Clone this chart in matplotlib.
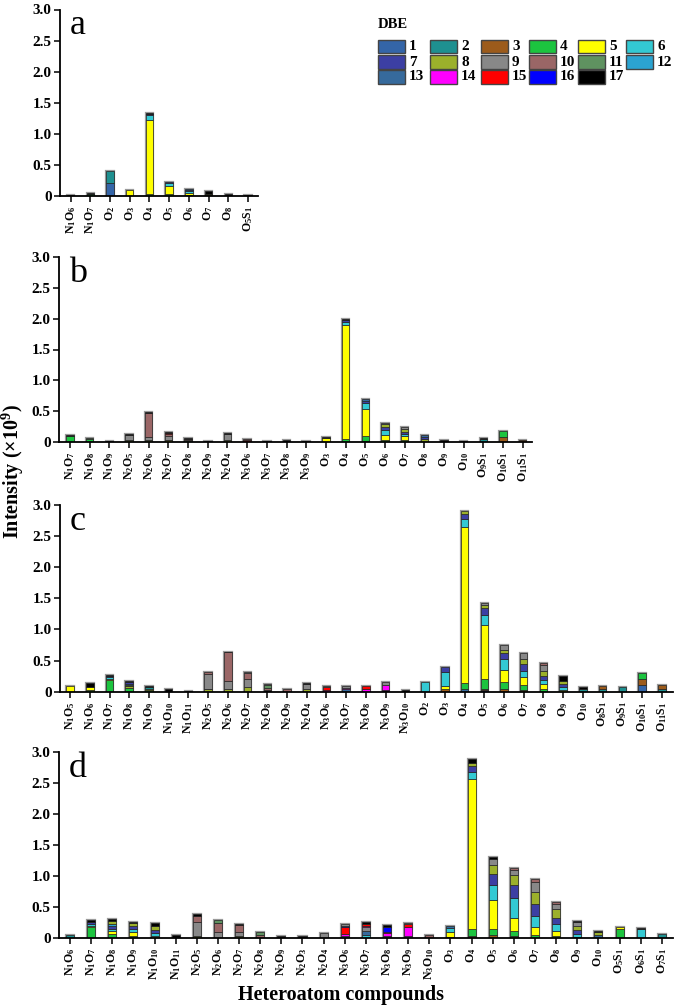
import re
import matplotlib
matplotlib.use("Agg")
import matplotlib.pyplot as plt
from matplotlib.patches import Rectangle

plt.rcParams['font.family'] = ['Liberation Serif', 'DejaVu Serif']
plt.rcParams['mathtext.fontset'] = 'custom'
plt.rcParams['mathtext.rm'] = 'Liberation Serif:bold'
plt.rcParams['mathtext.it'] = 'Liberation Serif:italic:bold'
plt.rcParams['mathtext.bf'] = 'Liberation Serif:bold'

# DBE colours (1..17)
dbe_values = list(range(1, 18))
dbe_colors = ['#3465A8', '#1E9090', '#9C5B1B', '#1CC43F', '#FFFF00', '#33C9D3',
              '#3C3FA3', '#9BB02B', '#888888', '#9A6666', '#5F9260', '#2BA3D1',
              '#366A9C', '#FF00FF', '#FF0000', '#0000FF', '#000000']

# Each stack: list of (DBE, cumulative top of segment) in units of 1e9
a_labels = ['N1O6', 'N1O7', 'O2', 'O3', 'O4', 'O5', 'O6', 'O7', 'O8', 'O5S1']
a_stacks = [
    [(17, 0.01)],
    [(4, 0.035), (17, 0.045)],
    [(1, 0.215), (2, 0.40)],
    [(5, 0.09)],
    [(4, 0.04), (5, 1.23), (6, 1.295), (7, 1.315), (17, 1.335)],
    [(4, 0.04), (5, 0.165), (6, 0.205), (7, 0.23)],
    [(4, 0.02), (5, 0.05), (6, 0.075), (7, 0.09), (13, 0.107)],
    [(4, 0.01), (5, 0.035), (17, 0.08)],
    [(17, 0.035)],
    [(17, 0.02)],
]

b_labels = ['N1O7', 'N1O8', 'N1O9', 'N2O5', 'N2O6', 'N2O7', 'N2O8', 'N2O9', 'N2O4',
            'N3O6', 'N3O7', 'N3O8', 'N3O9', 'O3', 'O4', 'O5', 'O6', 'O7', 'O8', 'O9',
            'O10', 'O9S1', 'O10S1', 'O11S1']
b_stacks = [
    [(4, 0.095), (17, 0.108)],
    [(4, 0.045), (11, 0.065)],
    [(17, 0.02)],
    [(8, 0.03), (9, 0.115), (17, 0.13)],
    [(8, 0.025), (9, 0.08), (10, 0.47), (17, 0.48)],
    [(5, 0.025), (8, 0.04), (9, 0.10), (10, 0.135), (15, 0.145), (17, 0.16)],
    [(11, 0.03), (10, 0.055), (17, 0.065)],
    [(17, 0.02)],
    [(8, 0.03), (9, 0.135), (17, 0.145)],
    [(15, 0.035), (10, 0.05)],
    [(17, 0.015)],
    [(17, 0.025)],
    [(17, 0.02)],
    [(5, 0.065), (17, 0.08)],
    [(4, 0.05), (5, 1.89), (6, 1.95), (7, 1.98), (17, 2.0)],
    [(17, 0.01), (4, 0.09), (5, 0.54), (6, 0.635), (7, 0.67), (13, 0.705)],
    [(4, 0.04), (5, 0.12), (6, 0.2), (7, 0.25), (8, 0.285), (9, 0.307)],
    [(4, 0.03), (5, 0.09), (6, 0.13), (7, 0.17), (8, 0.21), (9, 0.237)],
    [(8, 0.05), (7, 0.08), (13, 0.108)],
    [(17, 0.04)],
    [(17, 0.015)],
    [(2, 0.05), (17, 0.065)],
    [(3, 0.08), (4, 0.18)],
    [(3, 0.04)],
]

c_labels = ['N1O5', 'N1O6', 'N1O7', 'N1O8', 'N1O9', 'N1O10', 'N1O11', 'N2O5', 'N2O6',
            'N2O7', 'N2O8', 'N2O9', 'N2O4', 'N3O6', 'N3O7', 'N3O8', 'N3O9', 'N3O10',
            'O2', 'O3', 'O4', 'O5', 'O6', 'O7', 'O8', 'O9', 'O10', 'O8S1', 'O9S1',
            'O10S1', 'O11S1']
c_stacks = [
    [(5, 0.086)],
    [(4, 0.02), (5, 0.07), (17, 0.14)],
    [(4, 0.18), (5, 0.2), (6, 0.23), (7, 0.25), (17, 0.27)],
    [(4, 0.06), (8, 0.09), (3, 0.11), (6, 0.13), (7, 0.155), (17, 0.177)],
    [(4, 0.02), (5, 0.04), (2, 0.07), (17, 0.086)],
    [(17, 0.04)],
    [(17, 0.015)],
    [(8, 0.04), (5, 0.05), (9, 0.28), (10, 0.31)],
    [(8, 0.05), (9, 0.17), (10, 0.63), (17, 0.64)],
    [(8, 0.07), (9, 0.21), (10, 0.3), (9, 0.32)],
    [(17, 0.03), (10, 0.06), (11, 0.1), (9, 0.123)],
    [(10, 0.043)],
    [(8, 0.04), (9, 0.12), (17, 0.14)],
    [(14, 0.03), (15, 0.07), (9, 0.096)],
    [(13, 0.04), (14, 0.06), (9, 0.096)],
    [(14, 0.04), (15, 0.086)],
    [(17, 0.03), (14, 0.1), (9, 0.155)],
    [(17, 0.027)],
    [(6, 0.15)],
    [(3, 0.04), (5, 0.09), (6, 0.31), (7, 0.396)],
    [(13, 0.04), (4, 0.14), (5, 2.65), (6, 2.78), (7, 2.86), (8, 2.91)],
    [(7, 0.02), (3, 0.05), (4, 0.2), (5, 1.07), (6, 1.24), (7, 1.35), (8, 1.39), (9, 1.42)],
    [(3, 0.05), (4, 0.15), (5, 0.35), (6, 0.52), (7, 0.62), (8, 0.67), (9, 0.75)],
    [(3, 0.02), (4, 0.1), (5, 0.23), (6, 0.33), (7, 0.45), (8, 0.53), (9, 0.616)],
    [(4, 0.05), (5, 0.12), (6, 0.18), (7, 0.26), (8, 0.33), (9, 0.43), (10, 0.455)],
    [(5, 0.03), (6, 0.08), (7, 0.13), (8, 0.17), (17, 0.246)],
    [(2, 0.05), (17, 0.07)],
    [(2, 0.04), (3, 0.086)],
    [(2, 0.07)],
    [(1, 0.1), (3, 0.2), (4, 0.305)],
    [(2, 0.04), (3, 0.1)],
]

d_labels = ['N1O6', 'N1O7', 'N1O8', 'N1O9', 'N1O10', 'N1O11', 'N2O5', 'N2O6', 'N2O7',
            'N2O8', 'N2O9', 'N2O3', 'N2O4', 'N3O6', 'N3O7', 'N3O8', 'N3O9', 'N3O10',
            'O3', 'O4', 'O5', 'O6', 'O7', 'O8', 'O9', 'O10', 'O5S1', 'O6S1', 'O7S1']
d_stacks = [
    [(2, 0.054)],
    [(4, 0.17), (5, 0.2), (6, 0.23), (7, 0.26), (17, 0.29)],
    [(4, 0.06), (5, 0.12), (6, 0.15), (7, 0.2), (12, 0.23), (8, 0.27), (17, 0.31)],
    [(4, 0.04), (5, 0.1), (6, 0.15), (7, 0.2), (8, 0.24), (17, 0.26)],
    [(8, 0.04), (6, 0.08), (7, 0.13), (8, 0.2), (17, 0.235)],
    [(17, 0.05)],
    [(8, 0.04), (9, 0.26), (10, 0.35), (17, 0.39)],
    [(9, 0.1), (10, 0.25), (11, 0.295)],
    [(8, 0.03), (9, 0.1), (10, 0.21), (17, 0.225)],
    [(10, 0.05), (11, 0.1)],
    [(17, 0.025)],
    [(17, 0.025)],
    [(9, 0.08)],
    [(2, 0.03), (14, 0.06), (15, 0.18), (16, 0.2), (9, 0.225)],
    [(6, 0.05), (13, 0.12), (9, 0.17), (14, 0.2), (15, 0.23), (17, 0.26)],
    [(13, 0.04), (14, 0.08), (15, 0.1), (16, 0.17), (17, 0.215)],
    [(13, 0.04), (14, 0.17), (15, 0.22), (9, 0.24)],
    [(10, 0.048)],
    [(17, 0.02), (5, 0.1), (6, 0.16), (13, 0.2)],
    [(3, 0.03), (4, 0.14), (5, 2.56), (6, 2.67), (7, 2.77), (8, 2.83), (17, 2.88)],
    [(3, 0.05), (4, 0.14), (5, 0.62), (6, 0.85), (7, 1.04), (8, 1.18), (9, 1.28), (17, 1.3)],
    [(3, 0.04), (4, 0.12), (5, 0.33), (6, 0.65), (7, 0.85), (8, 1.01), (9, 1.1), (10, 1.135)],
    [(4, 0.05), (5, 0.18), (6, 0.35), (7, 0.55), (8, 0.74), (9, 0.91), (10, 0.948)],
    [(4, 0.03), (5, 0.11), (6, 0.22), (7, 0.33), (8, 0.46), (9, 0.55), (10, 0.584)],
    [(3, 0.02), (6, 0.07), (7, 0.13), (8, 0.2), (9, 0.26), (17, 0.28)],
    [(13, 0.05), (8, 0.09), (17, 0.118)],
    [(4, 0.15), (5, 0.177)],
    [(6, 0.15), (17, 0.16)],
    [(2, 0.06)],
]

y_ticks = [0, 0.5, 1.0, 1.5, 2.0, 2.5, 3.0]
y_ticklabels = ['0', '0.5', '1.0', '1.5', '2.0', '2.5', '3.0']

W, H = 675, 1007
fig = plt.figure(figsize=(W / 100, H / 100), dpi=100)


def fmt(lbl):
    return re.sub(r'(\d+)', lambda m: r'$_{' + m.group(1) + '}$', lbl)


def ax_px(left, right, top, bottom):
    return fig.add_axes([left / W, 1 - bottom / H, (right - left) / W, (bottom - top) / H])


panels = [
    ('a', a_labels, a_stacks, (60, 258, 9.5, 196), (-0.54, 9.51)),
    ('b', b_labels, b_stacks, (59, 532, 257, 442), (-0.56, 23.47)),
    ('c', c_labels, c_stacks, (60, 673, 505, 691.7), (-0.51, 30.57)),
    ('d', d_labels, d_stacks, (59, 673, 752, 938), (-0.52, 28.53)),
]

color_of = dict(zip(dbe_values, dbe_colors))
bw = 0.38
for letter, labels, stacks, box, xl in panels:
    ax = ax_px(*box)
    for i, segs in enumerate(stacks):
        total = segs[-1][1]
        ax.bar(i, total, width=bw, color='none', edgecolor='#9a9a9a', linewidth=1.6, zorder=1)
        prev = 0.0
        for dbe, top in segs:
            ax.bar(i, top - prev, bottom=prev, width=bw, color=color_of[dbe],
                   edgecolor='#222222', linewidth=0.5, zorder=2)
            prev = top
    ax.set_xlim(*xl)
    ax.set_ylim(0, 3.0)
    ax.set_yticks(y_ticks)
    ax.set_yticklabels(y_ticklabels, fontsize=11, fontweight='bold')
    ax.set_xticks(range(len(labels)))
    ax.set_xticklabels([fmt(l) for l in labels], rotation=90, fontsize=8.5,
                       fontweight='bold')
    for s in ('top', 'right'):
        ax.spines[s].set_visible(False)
    for s in ('left', 'bottom'):
        ax.spines[s].set_linewidth(1.3)
    ax.tick_params(axis='both', direction='out', length=4, width=1.1, pad=2)
    ax.tick_params(axis='x', pad=3)
    ax.annotate(letter, xy=(0, 1), xycoords='axes fraction', xytext=(7, 0),
                textcoords='offset points', ha='left', va='top', fontsize=26)

fig.text(13 / W, 1 - 472 / H, 'Intensity (×10$^{9}$)', rotation=90, ha='center',
         va='center', fontsize=14.5, fontweight='bold')
fig.text(341 / W, 1 - 995 / H, 'Heteroatom compounds', ha='center', va='center',
         fontsize=14.5, fontweight='bold')

# Legend
fig.text(378 / W, 1 - 25 / H, 'DBE', ha='left', va='center', fontsize=10.5, fontweight='bold')
col_x = [378, 430, 481, 529, 578, 626]
row_y = [46.5, 62, 77]
bwid, bhgt = 27, 13
for k, (v, c) in enumerate(zip(dbe_values, dbe_colors)):
    r, cidx = divmod(k, 6)
    x0, yc = col_x[cidx], row_y[r]
    fig.add_artist(Rectangle((x0 / W, 1 - (yc + bhgt / 2) / H), bwid / W, bhgt / H,
                             transform=fig.transFigure, facecolor=c,
                             edgecolor='#444444', linewidth=1.0))
    fig.text((x0 + bwid + 4) / W, 1 - yc / H, str(v), ha='left', va='center',
             fontsize=11, fontweight='bold')

fig.savefig('out.png', dpi=100)
